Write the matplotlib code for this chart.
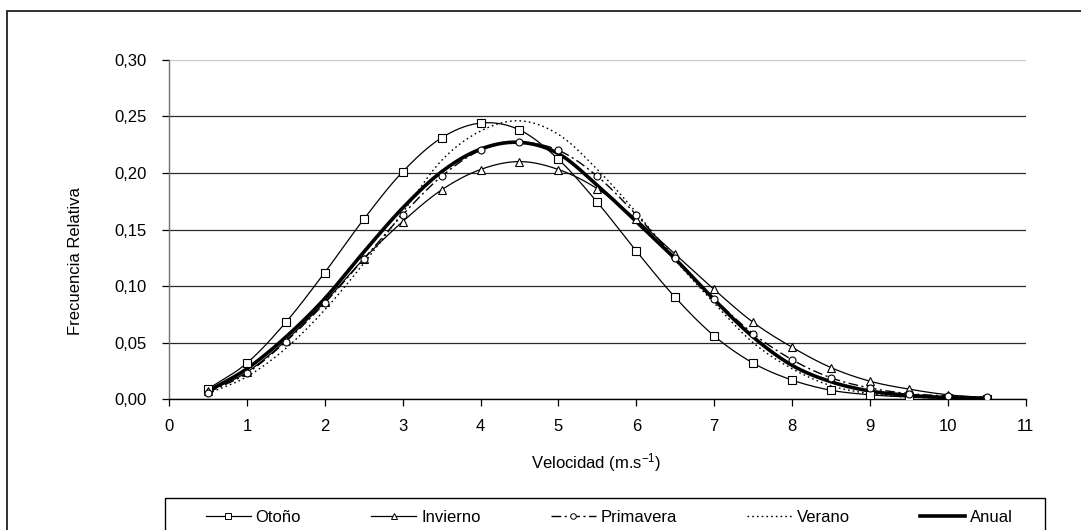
import numpy as np
import matplotlib
matplotlib.use("Agg")
import matplotlib.pyplot as plt
from matplotlib import font_manager
from matplotlib.patches import Rectangle
from matplotlib.ticker import FuncFormatter

# --- data -------------------------------------------------------------
velocidad = [0.5, 1.0, 1.5, 2.0, 2.5, 3.0, 3.5, 4.0, 4.5, 5.0, 5.5,
             6.0, 6.5, 7.0, 7.5, 8.0, 8.5, 9.0, 9.5, 10.0, 10.5]

otono = [0.009, 0.032, 0.068, 0.112, 0.159, 0.201, 0.231, 0.244, 0.238, 0.212, 0.174,
         0.131, 0.090, 0.056, 0.032, 0.017, 0.008, 0.004, 0.002, 0.001, 0.0005]
invierno = [0.007, 0.024, 0.052, 0.086, 0.124, 0.157, 0.185, 0.203, 0.210, 0.203, 0.186,
            0.159, 0.128, 0.097, 0.068, 0.046, 0.028, 0.016, 0.009, 0.004, 0.0015]
primavera = [0.006, 0.023, 0.051, 0.085, 0.124, 0.163, 0.197, 0.220, 0.227, 0.220, 0.197,
             0.163, 0.125, 0.089, 0.058, 0.035, 0.019, 0.010, 0.005, 0.003, 0.0018]
verano = [0.005, 0.020, 0.045, 0.079, 0.120, 0.165, 0.211, 0.237, 0.246, 0.234, 0.203,
          0.165, 0.123, 0.085, 0.050, 0.027, 0.012, 0.005, 0.002, 0.001, 0.0005]
anual = [0.007, 0.027, 0.055, 0.089, 0.130, 0.169, 0.201, 0.221, 0.227, 0.217, 0.189,
         0.157, 0.124, 0.088, 0.055, 0.030, 0.0155, 0.0073, 0.0035, 0.0015, 0.0008]

series_names = ["Otoño", "Invierno", "Primavera", "Verano", "Anual"]
x_ticks = list(range(0, 12))
y_ticks = [0.00, 0.05, 0.10, 0.15, 0.20, 0.25, 0.30]

x_label = "Velocidad (m.s$^{-1}$)"
y_label = "Frecuencia Relativa"

# --- fonts ------------------------------------------------------------
available = {f.name for f in font_manager.fontManager.ttflist}
families = [f for f in ["Liberation Sans Narrow", "Liberation Sans", "DejaVu Sans"] if f in available]
plt.rcParams["font.family"] = families
plt.rcParams["mathtext.default"] = "regular"


def smooth(xs, ys, n=24):
    """Catmull-Rom path through the points, like a spreadsheet 'smoothed line'."""
    xs = np.asarray(xs, float)
    ys = np.asarray(ys, float)
    px = np.concatenate([[2 * xs[0] - xs[1]], xs, [2 * xs[-1] - xs[-2]]])
    py = np.concatenate([[2 * ys[0] - ys[1]], ys, [2 * ys[-1] - ys[-2]]])
    out_x, out_y = [], []
    t = np.linspace(0, 1, n, endpoint=False)
    for i in range(1, len(px) - 2):
        for arr, out in ((px, out_x), (py, out_y)):
            p0, p1, p2, p3 = arr[i - 1], arr[i], arr[i + 1], arr[i + 2]
            out.extend(0.5 * ((2 * p1) + (-p0 + p2) * t
                              + (2 * p0 - 5 * p1 + 4 * p2 - p3) * t ** 2
                              + (-p0 + 3 * p1 - 3 * p2 + p3) * t ** 3))
    out_x.append(xs[-1])
    out_y.append(ys[-1])
    return np.array(out_x), np.array(out_y)


W, H, DPI = 1081, 530, 100
fig = plt.figure(figsize=(W / DPI, H / DPI), dpi=DPI)
fig.patch.set_facecolor("white")

# outer chart-area border
fig.patches.append(Rectangle((7.5 / W, -0.1), 1.2, 1 - 10.5 / H + 0.1,
                             transform=fig.transFigure, fill=False,
                             edgecolor="#222222", linewidth=1.3))

left, right = 169 / W, 1025.7 / W
bottom, top = 1 - 399.3 / H, 1 - 59.7 / H
ax = fig.add_axes([left, bottom, right - left, top - bottom])

styles = [
    dict(ls="-", lw=0.9, marker="s", ms=5.2),
    dict(ls="-", lw=0.9, marker="^", ms=5.6),
    dict(ls=(0, (7, 2.5, 1.5, 2.5)), lw=1.0, marker="o", ms=5.0),
    dict(ls=(0, (1.2, 2.2)), lw=1.0, marker=None, ms=0),
    dict(ls="-", lw=2.6, marker=None, ms=0),
]
data = [otono, invierno, primavera, verano, anual]

handles = []
for name, ys, st in zip(series_names, data, styles):
    sx, sy = smooth(velocidad, ys)
    ax.plot(sx, sy, color="black", ls=st["ls"], lw=st["lw"], zorder=3,
            solid_capstyle="butt", dash_capstyle="butt")
    if st["marker"]:
        ax.plot(velocidad, ys, ls="none", marker=st["marker"], ms=st["ms"],
                mfc="white", mec="black", mew=0.8, zorder=4)
    h, = ax.plot([], [], color="black", ls=st["ls"], lw=st["lw"],
                 marker=st["marker"], ms=st["ms"] * 0.8 if st["marker"] else 0,
                 mfc="white", mec="black", mew=0.7, label=name)
    handles.append(h)

ax.set_xlim(0, 11)
ax.set_ylim(0, 0.30)
ax.set_xticks(x_ticks)
ax.set_yticks(y_ticks)
ax.yaxis.set_major_formatter(FuncFormatter(lambda v, p: f"{v:.2f}".replace(".", ",")))
ax.tick_params(axis="both", direction="out", length=5, width=0.9, labelsize=12,
               colors="black", pad=9)
ax.tick_params(axis="y", pad=11)

for s in ("top", "right"):
    ax.spines[s].set_visible(False)
ax.spines["left"].set_color("#707070")
ax.spines["left"].set_linewidth(1.0)
ax.spines["bottom"].set_color("black")
ax.spines["bottom"].set_linewidth(1.0)

ax.yaxis.grid(True, color="#2a2a2a", linewidth=0.9)
ax.set_axisbelow(True)
gl = ax.get_ygridlines()
gl[-1].set_color("#c8c8c8")

fig.text(596 / W, 1 - 463 / H, x_label, ha="center", va="center", fontsize=12)
fig.text(76 / W, 1 - 261 / H, y_label, ha="center", va="center", rotation=90,
         fontsize=12)

# legend box (open at the bottom edge of the picture) and its entries
leg_x0, leg_x1, leg_top = 165, 1045, 498
fig.patches.append(Rectangle((leg_x0 / W, -0.1), (leg_x1 - leg_x0) / W,
                             1 - leg_top / H + 0.1, transform=fig.transFigure,
                             fill=False, edgecolor="black", linewidth=1.0))
leg = fig.legend(handles=handles, loc="center",
                 bbox_to_anchor=((leg_x0 + leg_x1) / 2 / W + 0.004, 1 - 517 / H),
                 ncol=5, frameon=False, fontsize=12,
                 handlelength=2.7, handletextpad=0.3, columnspacing=4.2,
                 borderpad=0, numpoints=1)

fig.savefig("out.png", dpi=DPI, facecolor="white")
